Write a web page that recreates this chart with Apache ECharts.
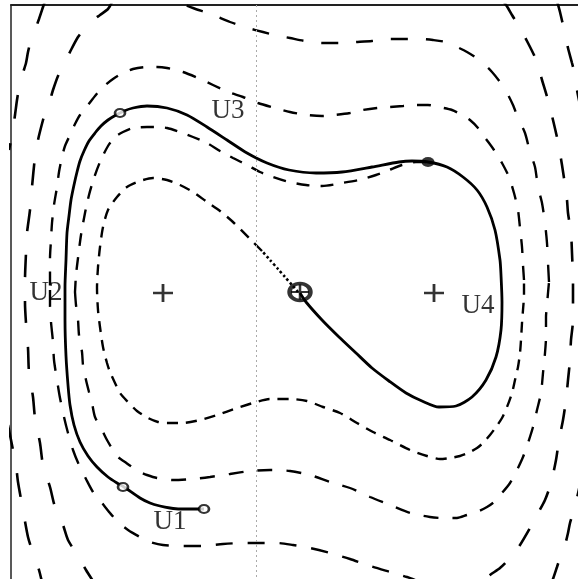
<!DOCTYPE html>
<html lang="en">
<head>
<meta charset="UTF-8">
<title>Trajectory U1-U4</title>
<script src="https://cdn.jsdelivr.net/npm/echarts@6.0.0/dist/echarts.min.js"></script>
<style>
    html, body { margin: 0; padding: 0; background: #fff; }
    #chart { width: 578px; height: 579px; }
</style>
</head>
<body>
<div id="chart"></div>
<script>
// plane coordinates (x to the right, y downwards)

// spiral arm A: dotted into the saddle, then winding outwards
var armA_dot = [[298,292],[292,285],[285,277],[278,269],[270,260],[262,251]];
var armA_in = [[262,251],[250,239],[233,222],[220,211],[207,202],[193,192],[180,185],[167,180],[153,178],[140,181],[127,187],[117,197],[108,210],[103,227],[100,247],[98,267],[97,288],[98,310],[100,327],[103,347],[107,363],[110,372],[115,383],[120,393],[127,401],[137,411],[148,418],[158,422],[167,423],[183,423],[200,420],[217,415],[237,408],[253,403],[270,399],[290,399],[307,401],[323,407],[340,413],[357,423],[373,432],[390,440],[410,450],[427,456],[440,459],[450,458],[460,456],[468,453],[477,448],[483,443],[490,435],[496,427],[502,418],[507,407],[512,393],[515,380],[518,367],[520,353],[521,340],[522,323],[523,310],[524,295],[524,280]];
var armA_mid = [[524,280],[523,265],[522,247],[520,228],[518,210],[514,193],[509,177],[502,163],[494,150],[486,139],[478,128],[470,120],[462,115],[452,110],[439,107],[428,105],[416,105],[403,106],[390,107],[377,108],[363,110],[350,113],[335,115],[322,116],[307,115],[290,112],[275,108],[258,103],[243,97],[228,92],[213,85],[198,78],[183,72],[167,68],[157,67],[147,67],[133,69],[123,73],[113,79],[103,87],[95,96],[88,105],[80,115],[75,124],[70,135],[65,146],[62,157],[59,172],[57,187],[54,205],[52,223],[51,240],[50,258],[50,275],[50,290]];
var armA_out = [[50,290],[50,305],[51,322],[53,342],[54,360],[57,380],[60,398],[64,417],[68,433],[73,450],[79,465],[86,479],[93,492],[102,503],[110,513],[118,522],[128,530],[140,537],[150,542],[163,545],[183,546],[203,546],[223,544],[243,543],[260,543],[277,543],[293,545],[310,548],[330,553],[350,559],[370,566],[390,572],[407,577],[420,582]];

// spiral arm B: leaves the filled dot under the trajectory
var armB_in = [[426,162],[416,162],[402,165],[389,170],[376,175],[359,180],[342,183],[322,186],[306,185],[289,182],[273,177],[260,172],[247,165],[233,158],[220,151],[207,143],[193,137],[180,132],[167,128],[157,127],[147,127],[133,128],[123,132],[115,137],[108,146],[100,162],[94,178],[89,195],[85,213],[81,235],[78,258],[76,275],[75,292]];
var armB_mid = [[75,292],[76,305],[78,320],[79,335],[82,352],[83,365],[86,380],[89,392],[92,403],[95,417],[102,430],[107,440],[113,450],[118,457],[125,462],[132,467],[140,472],[147,475],[157,478],[173,480],[193,479],[210,477],[230,474],[250,471],[270,470],[290,471],[310,475],[330,482],[350,488],[370,497],[390,505],[410,513],[430,517],[442,518],[457,518],[467,515],[477,512],[487,507],[494,502],[502,493],[510,483],[517,470],[523,457],[528,443],[533,427],[537,410],[541,393],[543,373],[545,353],[546,337],[546,317],[547,305],[548,293],[549,282]];
var armB_out = [[549,282],[548,263],[547,243],[545,223],[542,203],[538,187],[535,167],[530,152],[525,133],[518,118],[513,105],[507,93],[500,82],[492,72],[483,63],[475,57],[467,52],[457,47],[446,42],[433,40],[420,39],[406,39],[389,39],[372,41],[356,42],[339,43],[322,43],[305,41],[290,38],[275,35],[263,32],[248,28],[230,22],[213,15],[193,8],[180,3]];

// outer curves
var outerL = [[112,2],[108,9],[100,15],[92,21],[85,28],[78,37],[72,48],[65,62],[58,76],[53,90],[50,100],[46,110],[43,120],[38,140],[35,157],[32,187],[30,210],[27,233],[26,253],[25,280],[25,303],[26,323],[28,348],[29,372],[33,397],[35,418],[40,443],[43,465],[50,487],[55,507],[63,525],[68,540],[78,556],[86,570],[93,581]];
var outerR = [[504,2],[508,8],[512,15],[520,28],[528,43],[534,55],[537,62],[542,80],[548,100],[553,120],[558,142],[562,165],[565,185],[567,200],[568,213],[571,233],[572,253],[573,282],[573,300],[573,320],[571,340],[570,360],[568,380],[566,400],[563,420],[559,440],[556,460],[551,483],[545,500],[537,515],[530,528],[520,545],[511,557],[500,568],[490,575],[482,582]];
var edgeTL = [[45,1],[43,7],[39,19],[35,30],[31,40],[28,52],[26,63],[22,76],[19,88],[17,100],[15,115],[12,135],[9,150]];
var edgeBL = [[8,425],[11,440],[13,450],[16,465],[18,482],[23,510],[28,537],[32,550],[35,558],[39,570],[42,582]];
var edgeTR = [[557,1],[560,12],[563,25],[566,38],[568,48],[572,63],[575,75],[577,90],[580,105]];
var edgeBR = [[551,584],[553,579],[557,567],[561,555],[565,545],[568,533],[570,523],[574,510],[577,498],[581,480]];

// solid trajectory, from the saddle round U4, U3, U2 to U1
var pathU = [[300,293],[306,302],[322,320],[339,337],[356,353],[372,368],[389,381],[406,393],[422,401],[439,407],[456,406],[472,397],[486,380],[496,357],[501,330],[502,302],[501,275],[500,260],[495,230],[487,207],[477,190],[463,177],[447,167],[428,162],[412,161],[399,162],[372,167],[342,172],[316,173],[289,170],[267,163],[247,153],[227,140],[207,127],[187,115],[167,108],[147,106],[133,108],[124,111],[116,115],[108,120],[101,126],[95,133],[89,141],[84,151],[80,161],[77,172],[74,185],[71,200],[69,216],[67,233],[66,260],[65,287],[65,320],[66,356],[68,385],[70,405],[74,425],[80,442],[88,456],[97,467],[108,477],[117,483],[124,487],[140,498],[150,503],[160,506],[170,508],[180,509],[192,509],[204,509]];

var openMarks = [[120,113],[123,487],[204,509]];
var dotMarks = [[428,162]];
var wells = [[163,293],[434,293]];
var saddle = [[300,292]];
var labelText = ['U1', 'U2', 'U3', 'U4'];
var labelAt = [[170,522],[46,293],[228,111],[478,306]];
var scanX = 256;

var ink = '#000';
var plusPath = 'path://M0,8.6H20V11.4H0Z M8.6,0H11.4V20H8.6Z';

function curve(pts, dash, width) {
    return {
        type: 'line',
        data: pts,
        symbol: 'none',
        smooth: 0.25,
        silent: true,
        lineStyle: { color: ink, width: width || 2.4, type: dash }
    };
}

var chart = echarts.init(document.getElementById('chart'));
var series = [
    curve(armA_dot, [2.5, 2.5], 2.6),
    curve(armA_in, [11, 8]),
    curve(armA_mid, [14, 13]),
    curve(armA_out, [17, 15]),
    curve(armB_in, [13, 11]),
    curve(armB_mid, [15, 14]),
    curve(armB_out, [17, 18]),
    curve(outerL, [22, 24], 2.6),
    curve(outerR, [20, 22], 2.6),
    curve(edgeTL, [24, 25], 2.6),
    curve(edgeBL, [24, 25], 2.6),
    curve(edgeTR, [22, 24], 2.6),
    curve(edgeBR, [22, 24], 2.6),
    curve(pathU, 'solid', 2.8)
];
// faint vertical scan line
series[0].markLine = {
    silent: true,
    symbol: 'none',
    label: { show: false },
    lineStyle: { color: '#aaa', width: 1, type: [2, 3] },
    data: [{ xAxis: scanX }]
};
series.push({
    type: 'scatter', data: openMarks, symbol: 'circle', symbolSize: [10, 8], silent: true,
    itemStyle: { color: '#fff', borderColor: ink, borderWidth: 2.4 }, z: 5
});
series.push({
    type: 'scatter', data: dotMarks, symbol: 'circle', symbolSize: [13, 10], silent: true,
    itemStyle: { color: ink }, z: 5
});
series.push({
    type: 'scatter', data: wells, symbol: plusPath, symbolSize: [20, 18], silent: true,
    itemStyle: { color: ink }, z: 5
});
series.push({
    type: 'scatter', data: saddle, symbol: 'circle', symbolSize: [21, 17], silent: true,
    itemStyle: { color: 'rgba(0,0,0,0)', borderColor: ink, borderWidth: 4 }, z: 6
});
series.push({
    type: 'scatter', data: saddle, symbol: plusPath, symbolSize: [18, 15], silent: true,
    itemStyle: { color: ink }, z: 6
});
series.push({
    type: 'scatter',
    data: labelAt.map(function (p, i) { return { value: p, name: labelText[i] }; }),
    symbolSize: 0,
    silent: true,
    label: {
        show: true,
        position: 'inside',
        formatter: '{b}',
        color: ink,
        fontFamily: 'Liberation Serif',
        fontSize: 27
    },
    z: 7
});

var option = {
    animation: false,
    backgroundColor: '#fff',
    grid: { left: 11, right: 0, top: 5, bottom: 0 },
    xAxis: {
        type: 'value', min: 11, max: 578, position: 'top',
        axisLine: { show: true, onZero: false, lineStyle: { color: '#222', width: 2 } },
        axisTick: { show: false }, axisLabel: { show: false }, splitLine: { show: false }
    },
    yAxis: {
        type: 'value', min: 5, max: 579, inverse: true,
        axisLine: { show: true, onZero: false, lineStyle: { color: '#222', width: 1.5 } },
        axisTick: { show: false }, axisLabel: { show: false }, splitLine: { show: false }
    },
    series: series
};
chart.setOption(option);
window.onresize = chart.resize;
</script>
</body>
</html>
